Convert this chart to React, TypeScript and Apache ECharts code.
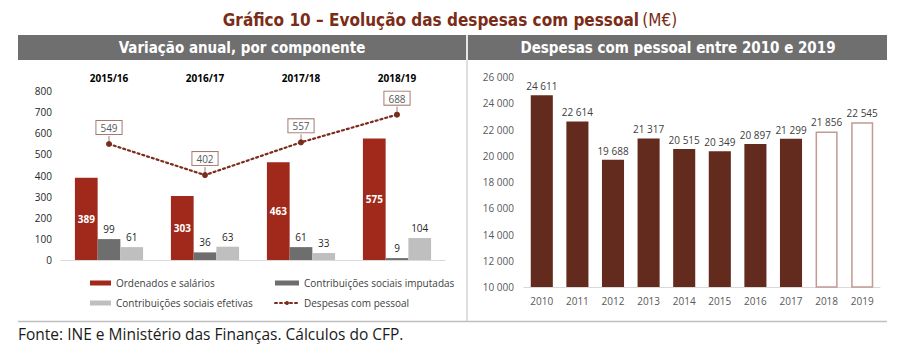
import React, { useEffect, useRef } from "react";
import * as echarts from "echarts";

// Left panel data
const periods = ["2015/16", "2016/17", "2017/18", "2018/19"];
const ordenados = [389, 303, 463, 575];
const contribImputadas = [99, 36, 61, 9];
const contribEfetivas = [61, 63, 33, 104];
const despesasVar = [549, 402, 557, 688];
const leftTicks = { min: 0, max: 800, interval: 100 };

// Right panel data
const years = ["2010", "2011", "2012", "2013", "2014", "2015", "2016", "2017", "2018", "2019"];
const despesas = [24611, 22614, 19688, 21317, 20515, 20349, 20897, 21299, 21856, 22545];
const projectedYears = ["2018", "2019"];
const rightTicks = { min: 10000, max: 26000, interval: 2000 };

const FONT = "'Open Sans', 'Noto Sans', sans-serif";
const COND = "'DejaVu Sans Condensed', 'Liberation Sans Narrow', 'Open Sans', sans-serif";

const fmt = (v: number) => String(v).replace(/\B(?=(\d{3})+(?!\d))/g, " ");

export default function App() {
  const ref = useRef<HTMLDivElement>(null);
  useEffect(() => {
    document.body.style.margin = "0";
    const chart = echarts.init(ref.current!, null, { renderer: "svg" });
    const option: any = {
      animation: false,
      backgroundColor: "#ffffff",
      textStyle: { fontFamily: FONT },
      grid: [
        { left: 61, width: 384, top: 91, height: 169 },
        { left: 524, width: 356, top: 77, height: 210 },
      ],
      xAxis: [
        {
          type: "category",
          gridIndex: 0,
          data: periods,
          axisLine: { show: true, lineStyle: { color: "#d9d9d9", width: 1 } },
          axisTick: { show: false },
          axisLabel: { show: false },
        },
        {
          type: "category",
          gridIndex: 0,
          position: "top",
          data: periods,
          axisLine: { show: false },
          axisTick: { show: false },
          axisLabel: { color: "#000", fontWeight: "bold", fontSize: 10, margin: 8, fontFamily: FONT },
        },
        {
          type: "category",
          gridIndex: 1,
          data: years,
          axisLine: { show: true, lineStyle: { color: "#d9d9d9", width: 1 } },
          axisTick: { show: false },
          axisLabel: { color: "#595959", fontSize: 10, margin: 9, fontFamily: FONT },
        },
      ],
      yAxis: [
        {
          type: "value",
          gridIndex: 0,
          min: leftTicks.min,
          max: leftTicks.max,
          interval: leftTicks.interval,
          axisLine: { show: false },
          axisTick: { show: false },
          splitLine: { show: false },
          axisLabel: { color: "#262626", fontSize: 10, margin: 9, fontFamily: FONT },
        },
        {
          type: "value",
          gridIndex: 1,
          min: rightTicks.min,
          max: rightTicks.max,
          interval: rightTicks.interval,
          axisLine: { show: false },
          axisTick: { show: false },
          splitLine: { show: false },
          axisLabel: { color: "#595959", fontSize: 10, margin: 10, fontFamily: FONT, formatter: (v: number) => fmt(v) },
        },
      ],
      legend: [
        {
          left: 85,
          top: 273,
          orient: "vertical",
          itemWidth: 21,
          itemHeight: 5,
          itemGap: 10,
          textStyle: { fontSize: 10, color: "#404040", fontFamily: FONT },
          data: [
            { name: "Ordenados e salários", icon: "rect" },
            { name: "Contribuições sociais efetivas", icon: "rect" },
          ],
        },
        {
          left: 269,
          top: 273,
          orient: "vertical",
          itemWidth: 24,
          itemHeight: 5,
          itemGap: 10,
          textStyle: { fontSize: 10, color: "#404040", fontFamily: FONT },
          data: [
            { name: "Contribuições sociais imputadas", icon: "rect" },
            { name: "Despesas com pessoal" },
          ],
        },
      ],
      series: [
        {
          name: "Ordenados e salários",
          type: "bar",
          xAxisIndex: 0,
          yAxisIndex: 0,
          data: ordenados,
          barGap: "0%",
          barCategoryGap: "29%",
          itemStyle: { color: "#a0291b" },
          label: { show: true, position: "inside", color: "#fff", fontWeight: "bold", fontSize: 10, fontFamily: FONT },
        },
        {
          name: "Contribuições sociais imputadas",
          type: "bar",
          xAxisIndex: 0,
          yAxisIndex: 0,
          data: contribImputadas,
          barGap: "0%",
          barCategoryGap: "29%",
          itemStyle: { color: "#6e6e6e" },
          label: { show: true, position: "top", distance: 5, color: "#262626", fontSize: 10, fontFamily: FONT },
        },
        {
          name: "Contribuições sociais efetivas",
          type: "bar",
          xAxisIndex: 0,
          yAxisIndex: 0,
          data: contribEfetivas,
          barGap: "0%",
          barCategoryGap: "29%",
          itemStyle: { color: "#bfbfbf" },
          label: { show: true, position: "top", distance: 5, color: "#262626", fontSize: 10, fontFamily: FONT },
        },
        {
          name: "Despesas com pessoal",
          type: "line",
          xAxisIndex: 0,
          yAxisIndex: 0,
          data: despesasVar,
          symbol: "circle",
          symbolSize: 6,
          itemStyle: { color: "#7b2c1c" },
          lineStyle: { color: "#7b2c1c", width: 2.2, type: [2, 3], cap: "round" },
          label: {
            show: true,
            position: "top",
            distance: 7,
            color: "#595959",
            fontSize: 10,
            fontFamily: FONT,
            backgroundColor: "#fff",
            borderColor: "#a87870",
            borderWidth: 1,
            padding: [2, 4, 1, 4],
          },
          z: 5,
        },
        {
          name: "leader",
          type: "custom",
          xAxisIndex: 0,
          yAxisIndex: 0,
          data: despesasVar.map((v, i) => [i, v]),
          z: 4,
          silent: true,
          renderItem: (params: any, api: any) => {
            const p = api.coord([api.value(0), api.value(1)]);
            return {
              type: "line",
              shape: { x1: p[0], y1: p[1] - 2, x2: p[0], y2: p[1] - 8 },
              style: { stroke: "#a87870", lineWidth: 1 },
            };
          },
        },
        {
          name: "Despesas",
          type: "bar",
          xAxisIndex: 2,
          yAxisIndex: 1,
          barCategoryGap: "38%",
          data: despesas.map((v, i) =>
            projectedYears.includes(years[i])
              ? { value: v, itemStyle: { color: "#ffffff", borderColor: "#c29a92", borderWidth: 1.5 } }
              : { value: v, itemStyle: { color: "#632b1e" } }
          ),
          label: {
            show: true,
            position: "top",
            distance: 4,
            color: "#404040",
            fontSize: 10,
            fontFamily: FONT,
            formatter: (p: any) => fmt(p.value),
          },
        },
      ],
      graphic: [
        {
          type: "text",
          x: 450,
          y: 20,
          style: {
            text: "{b|Gráfico 10 – Evolução das despesas com pessoal} {n|(M€)}",
            align: "center",
            verticalAlign: "middle",
            rich: {
              b: { fontFamily: COND, fontWeight: "bold", fontSize: 17, fill: "#7b2c17" },
              n: { fontFamily: COND, fontWeight: "normal", fontSize: 17, fill: "#7b2c17" },
            },
          },
        },
        { type: "rect", shape: { x: 18, y: 35, width: 869, height: 25 }, style: { fill: "#6f6f6f" } },
        { type: "rect", shape: { x: 466, y: 35, width: 2, height: 25 }, style: { fill: "#e6e6e6" } },
        {
          type: "text",
          x: 242,
          y: 48,
          style: {
            text: "Variação anual, por componente",
            align: "center",
            verticalAlign: "middle",
            fill: "#ffffff",
            fontFamily: COND,
            fontWeight: "bold",
            fontSize: 15,
          },
        },
        {
          type: "text",
          x: 678,
          y: 48,
          style: {
            text: "Despesas com pessoal entre 2010 e 2019",
            align: "center",
            verticalAlign: "middle",
            fill: "#ffffff",
            fontFamily: COND,
            fontWeight: "bold",
            fontSize: 15,
          },
        },
        { type: "line", shape: { x1: 467, y1: 60, x2: 467, y2: 321 }, style: { stroke: "#bfbfbf", lineWidth: 1 } },
        { type: "line", shape: { x1: 18, y1: 321.5, x2: 887, y2: 321.5 }, style: { stroke: "#bfbfbf", lineWidth: 1.5 } },
        {
          type: "text",
          x: 18,
          y: 334,
          style: {
            text: "Fonte: INE e Ministério das Finanças. Cálculos do CFP.",
            align: "left",
            verticalAlign: "middle",
            fill: "#1a1a1a",
            fontFamily: FONT,
            fontSize: 15.5,
          },
        },
      ],
    };
    chart.setOption(option);
    return () => chart.dispose();
  }, []);
  return <div ref={ref} style={{ position: "absolute", left: 0, top: 0, width: 900, height: 354 }} />;
}
